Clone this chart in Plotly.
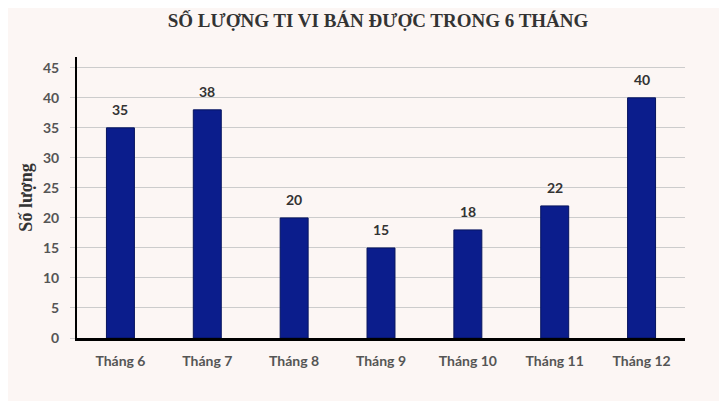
import plotly.graph_objects as go

categories = ["Tháng 6", "Tháng 7", "Tháng 8", "Tháng 9", "Tháng 10", "Tháng 11", "Tháng 12"]
values = [35, 38, 20, 15, 18, 22, 40]
y_ticks = [0, 5, 10, 15, 20, 25, 30, 35, 40, 45]

title_text = "SỐ LƯỢNG TI VI BÁN ĐƯỢC TRONG 6 THÁNG"
y_title = "Số lượng"

bg = "#fcf6f4"
bar_color = "#0b1d8c"

fig = go.Figure(go.Bar(
    x=categories, y=values,
    marker=dict(color=bar_color, line=dict(color="#06145e", width=1)),
    cliponaxis=False,
))

for c, v in zip(categories, values):
    fig.add_annotation(x=c, y=v, text=str(v), showarrow=False, yshift=18,
                       font=dict(family="Lato", size=14, color="#333333", weight="bold"))

tick_font = dict(family="Lato", size=14, color="#555555", weight="bold")

fig.update_layout(
    width=727, height=401,
    paper_bgcolor=bg, plot_bgcolor=bg,
    margin=dict(l=69, r=50, t=49, b=71, autoexpand=False),
    bargap=0.678,
    showlegend=False,
    title=dict(text=title_text, x=0.509, xanchor="center", y=0.97, yanchor="middle",
               font=dict(family="Liberation Serif", size=19, color="#333333", weight="bold")),
    xaxis=dict(
        automargin=False,
        showline=True, linecolor="#000000", linewidth=2.5,
        showgrid=False, ticks="",
        tickfont=tick_font,
        ticklabelstandoff=8,
    ),
    yaxis=dict(
        automargin=False,
        range=[0, 46.8], tickvals=y_ticks,
        showline=True, linecolor="#000000", linewidth=2,
        showgrid=True, gridcolor="#cccccc", gridwidth=1,
        zeroline=False,
        ticks="outside", ticklen=5, tickcolor="#cccccc",
        tickfont=tick_font,
        ticklabelstandoff=8,
        title=dict(text=y_title, font=dict(family="Liberation Serif", size=18, color="#333333", weight="bold"), standoff=6),
    ),
)

fig.write_html("out.html")
